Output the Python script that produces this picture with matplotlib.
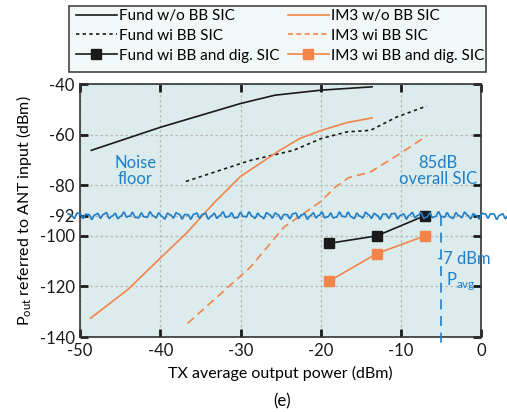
import numpy as np
import matplotlib
matplotlib.use("Agg")
import matplotlib.pyplot as plt
from matplotlib.lines import Line2D
from matplotlib.patches import Rectangle
from matplotlib import font_manager

_names = {f.name for f in font_manager.fontManager.ttflist}
_base = 'Liberation Sans Narrow' if 'Liberation Sans Narrow' in _names else 'Lato'
plt.rcParams['font.family'] = [_base, 'DejaVu Sans']
plt.rcParams['mathtext.fontset'] = 'custom'
plt.rcParams['mathtext.rm'] = _base

# TX average output power (dBm) and output power referred to ANT input (dBm)
fund_wo_x = [-48.6, -40, -30, -25.7, -19.9, -13.6]
fund_wo_y = [-66.2, -57.1, -47.7, -44.4, -42.4, -41.1]

fund_bb_x = [-36.8, -28.8, -23.4, -19.9, -16.7, -13.8, -10.5, -6.8]
fund_bb_y = [-78.5, -70.2, -66.2, -61.5, -58.9, -58.3, -53.0, -48.7]

im3_wo_x = [-48.7, -44, -40, -36.7, -33.4, -30, -25.1, -22.6, -19.9, -16.7, -13.6]
im3_wo_y = [-132.6, -121.1, -108.8, -98.8, -87.3, -76.5, -66.2, -61.5, -58.3, -55.2, -53.4]

im3_bb_x = [-36.6, -28.8, -24.6, -20.1, -18.2, -16.5, -13.8, -10.1, -6.8]
im3_bb_y = [-134.6, -112.5, -96.6, -86.7, -80.8, -77.0, -74.8, -67.5, -60.5]

fund_dig_x = [-19, -13, -7]
fund_dig_y = [-103, -100, -92]

im3_dig_x = [-19, -13, -7]
im3_dig_y = [-118, -107, -100]

noise_floor = -92
pavg_x = -5

x_ticks = [-50, -40, -30, -20, -10, 0]
y_ticks = [-40, -60, -80, -92, -100, -120, -140]

BLACK = '#1a1a1a'
ORANGE = '#f4844a'
BLUE = '#1f7fc8'
MS = 6.5

fig = plt.figure(figsize=(5.07, 4.12), dpi=100)
ax = fig.add_axes([0.158, 0.182, 0.791, 0.614])
ax.set_facecolor('#dcebeb')

ax.plot(fund_wo_x, fund_wo_y, color=BLACK, lw=1.2)
ax.plot(fund_bb_x, fund_bb_y, color=BLACK, lw=1.2, ls=(0, (2, 2)))
ax.plot(im3_wo_x, im3_wo_y, color=ORANGE, lw=1.2)
ax.plot(im3_bb_x, im3_bb_y, color=ORANGE, lw=1.2, ls=(0, (5, 3)))
ax.plot(fund_dig_x, fund_dig_y, color=BLACK, lw=1.2, marker='s', ms=MS)
ax.plot(im3_dig_x, im3_dig_y, color=ORANGE, lw=1.2, marker='s', ms=MS)

# wavy noise floor line, extending past the axes on both sides
xs = np.linspace(-51.5, 3.2, 1400)
wave = 0.9 * np.sin(xs * 5.6) + 0.35 * np.sin(xs * 11.7 + 1.0) + 0.25 * np.sin(xs * 2.1)
ax.plot(xs, noise_floor + wave, color=BLUE, lw=1.2, clip_on=False, zorder=5)

# average power marker
ax.plot([pavg_x, pavg_x], [noise_floor, -144.5], color=BLUE, lw=1.2,
        ls=(0, (6, 4)), clip_on=False, zorder=4)

ax.text(-43.1, -74.5, 'Noise\nfloor', color=BLUE, fontsize=12, ha='center',
        va='center', linespacing=1.0)
ax.text(-5.4, -74.5, '85dB\noverall SIC', color=BLUE, fontsize=12, ha='center',
        va='center', linespacing=1.0)
ax.text(-5.5, -109, '-7 dBm', color=BLUE, fontsize=12, ha='left', va='center')
ax.text(-4.4, -117.8, r'P$_{\mathregular{avg}}$', color=BLUE, fontsize=12,
        ha='left', va='center')

ax.set_xlim(-50, 0)
ax.set_ylim(-140, -40)
ax.set_xticks(x_ticks)
ax.set_yticks(y_ticks)
ax.set_xticklabels([str(t) for t in x_ticks])
ax.set_yticklabels([str(t) for t in y_ticks])
ax.tick_params(direction='in', length=6, width=2, labelsize=12,
               top=True, right=True, colors=BLACK, pad=4)
ax.grid(True, color='#b8b8b8', ls=(0, (2, 2)), lw=0.9)
for s in ax.spines.values():
    s.set_color('#333333')
    s.set_linewidth(1.2)

ax.set_xlabel('TX average output power (dBm)', fontsize=11.5, labelpad=5)
ax.set_ylabel(r'P$_{\mathregular{out}}$ referred to ANT input (dBm)', fontsize=11.5,
              labelpad=4)
fig.text(0.557, 0.025, '(e)', ha='center', va='center', fontsize=12)

# legend: frame drawn as a figure rectangle, two columns as separate legends
W, H = 507.0, 412.0
fig.patches.append(Rectangle((69 / W, 1 - 72 / H), (486 - 69) / W, 66 / H,
                             transform=fig.transFigure, facecolor='#f2f7f7',
                             edgecolor='#444444', lw=1.2, zorder=0))

col1 = ([Line2D([], [], color=BLACK, lw=1.2),
         Line2D([], [], color=BLACK, lw=1.2, ls=(0, (2, 2))),
         Line2D([], [], color=BLACK, lw=1.2, marker='s', ms=MS)],
        ['Fund w/o BB SIC', 'Fund wi BB SIC', 'Fund wi BB and dig. SIC'])
col2 = ([Line2D([], [], color=ORANGE, lw=1.2),
         Line2D([], [], color=ORANGE, lw=1.2, ls=(0, (3, 2))),
         Line2D([], [], color=ORANGE, lw=1.2, marker='s', ms=MS)],
        ['IM3 w/o BB SIC', 'IM3 wi BB SIC', 'IM3 wi BB and dig. SIC'])
for (h, l), x0 in ((col1, 76), (col2, 288)):
    lg = fig.legend(h, l, loc='upper left', bbox_to_anchor=(x0 / W, 1 - 9 / H),
                    fontsize=11, frameon=False, handlelength=2.68,
                    handletextpad=0.13, labelspacing=0.38, borderpad=0,
                    borderaxespad=0)
    lg.set_zorder(2)

fig.savefig('out.png', dpi=100)
